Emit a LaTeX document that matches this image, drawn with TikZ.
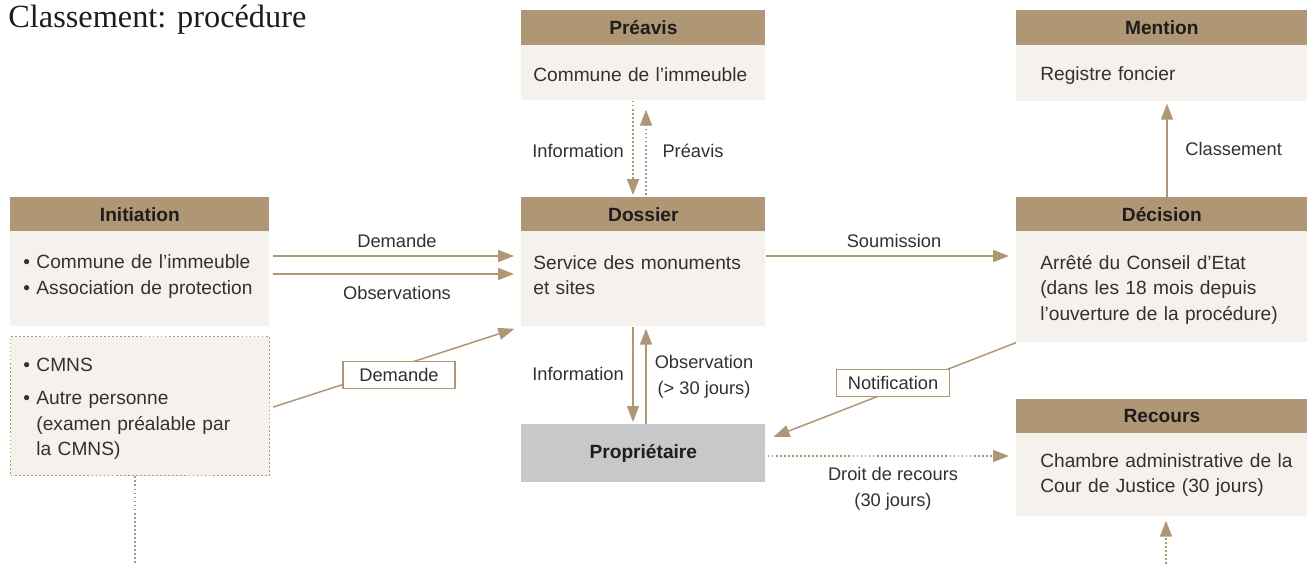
\documentclass[tikz,border=0pt]{standalone}
\usepackage{fontspec}
\setmainfont{Liberation Sans}
\newfontfamily\titlefont{Liberation Serif}
\usetikzlibrary{arrows.meta, positioning}
\definecolor{tan}{RGB}{175,150,116}
\definecolor{pale}{RGB}{245,242,238}
\definecolor{stone}{RGB}{199,200,202}
\definecolor{ink}{RGB}{30,28,28}
\definecolor{grey}{RGB}{50,48,48}

\begin{document}
\begin{tikzpicture}[x=0.02cm, y=-0.02cm,
    hdr/.style={fill=tan, anchor=north west, inner sep=0pt, minimum height=0.68cm, text=ink,
        font=\bfseries\fontsize{10.9}{13}\selectfont},
    bdy/.style={fill=pale, anchor=north west, inner sep=0pt},
    txt/.style={anchor=base west, inner sep=0pt, align=left, text width=5.6cm, text=grey,
        font=\fontsize{10.9}{14.6}\selectfont},
    lbl/.style={align=center, inner sep=0pt, text=grey, font=\fontsize{10.4}{15}\selectfont},
    tag/.style={lbl, draw=tan, fill=white, line width=0.8pt, minimum height=0.54cm},
    arr/.style={draw=tan, line width=0.85pt, -{Triangle[length=0.32cm, width=0.24cm]}},
    dots/.style={dash pattern=on 1pt off 1.3pt}]
    \useasboundingbox (0,0) rectangle (1307,564);

    \draw (8,28) node[anchor=base west, inner sep=0pt, text=ink, font=\titlefont\fontsize{18.4}{20}\selectfont] (titre) {Classement: procédure};

    \draw (521,10) node[hdr, minimum width=4.88cm, minimum height=0.7cm] (preh) {Préavis};
    \draw (521,45) node[bdy, minimum width=4.88cm, minimum height=1.1cm] (preb) {};
    \draw (533,81.5) node[txt] (pret) {Commune de l’immeuble};

    \draw (1016,10) node[hdr, minimum width=5.82cm, minimum height=0.7cm] (menh) {Mention};
    \draw (1016,45) node[bdy, minimum width=5.82cm, minimum height=1.12cm] (menb) {};
    \draw (1040,80.5) node[txt] (ment) {Registre foncier};

    \draw (10,197) node[hdr, minimum width=5.18cm] (inih) {Initiation};
    \draw (10,231) node[bdy, minimum width=5.18cm, minimum height=1.9cm] (inib) {};
    \draw (23,268.5) node[txt] (init) {• Commune de l’immeuble\\• Association de protection};
    \draw (10,336) node[bdy, draw=tan, dots, line width=0.8pt, minimum width=5.18cm, minimum height=2.78cm] (ini2) {};
    \draw (23,371) node[txt] (ini2t) {• CMNS\\[0.16cm]• Autre personne\\\hphantom{• }(examen préalable par\\\hphantom{• }la CMNS)};

    \draw (521,197) node[hdr, minimum width=4.88cm] (dosh) {Dossier};
    \draw (521,231) node[bdy, minimum width=4.88cm, minimum height=1.9cm] (dosb) {};
    \draw (533,269) node[txt] (dost) {Service des monuments\\et sites};

    \draw (1016,197) node[hdr, minimum width=5.82cm] (dech) {Décision};
    \draw (1016,231) node[bdy, minimum width=5.82cm, minimum height=2.22cm] (decb) {};
    \draw (1040,269) node[txt] (dect) {Arrêté du Conseil d’Etat\\(dans les 18 mois depuis\\l’ouverture de la procédure)};

    \draw (1016,399) node[hdr, minimum width=5.82cm] (rech) {Recours};
    \draw (1016,433) node[bdy, minimum width=5.82cm, minimum height=1.66cm] (recb) {};
    \draw (1040,467) node[txt] (rect) {Chambre administrative de la\\Cour de Justice (30 jours)};

    \draw (521,424) node[hdr, fill=stone, minimum width=4.88cm, minimum height=1.16cm] (pro) {Propriétaire};

    \draw[arr, shorten <=0.06cm, shorten >=0.14cm] (inib.east |- 0,256) -- (dosb.west |- 0,256);
    \draw[arr, shorten <=0.06cm, shorten >=0.14cm] (inib.east |- 0,274) -- (dosb.west |- 0,274);
    \draw (397,241) node[lbl] (ldem) {Demande};
    \draw (397,293) node[lbl] (lobs) {Observations};
    \draw[arr, shorten <=0.06cm, shorten >=0.14cm] (ini2.east |- 0,408) -- (dosb.south west);
    \draw (399,375) node[tag, minimum width=2.24cm] (tdem) {Demande};

    \draw[arr, dots, shorten >=0.04cm] (preb.south -| 633,0) -- (dosh.north -| 633,0);
    \draw[arr, dots, shorten <=0.04cm, shorten >=0.18cm] (dosh.north -| 646,0) -- (preb.south -| 646,0);
    \draw (578,151) node[lbl] (linf1) {Information};
    \draw (693,151) node[lbl] (lpre) {Préavis};

    \draw[arr, shorten >=0.04cm] (dosb.south -| 633,0) -- (pro.north -| 633,0);
    \draw[arr, shorten >=0.04cm] (pro.north -| 646,0) -- (dosb.south -| 646,0);
    \draw (578,374) node[lbl] (linf2) {Information};
    \draw (704,377) node[lbl] (lobs2) {Observation\\(> 30 jours)};

    \draw[arr, shorten >=0.14cm] (dosb.east |- 0,256) -- (decb.west |- 0,256);
    \draw (894,241) node[lbl] (lsou) {Soumission};

    \draw[arr, shorten >=0.04cm] (dech.north -| 1167,0) -- (menb.south -| 1167,0);
    \draw (1185,149) node[lbl, anchor=west] (lcla) {Classement};

    \draw[arr, shorten >=0.17cm] (decb.south west) -- (pro.east |- 0,440);
    \draw (893,383) node[tag, minimum width=2.26cm] (tnot) {Notification};

    \draw[arr, dots, shorten <=0.04cm, shorten >=0.14cm] (pro.east |- 0,456) -- (recb.west |- 0,456);
    \draw (893,489) node[lbl] (ldro) {Droit de recours\\(30 jours)};

    \coordinate (bas1) at (135,564);
    \draw[draw=tan, dots, line width=0.85pt] (ini2.south -| 135,0) -- (bas1);
    \coordinate (bas2) at (1166,564);
    \draw[arr, dots, shorten >=0.08cm] (bas2) -- (recb.south -| 1166,0);
\end{tikzpicture}
\end{document}
